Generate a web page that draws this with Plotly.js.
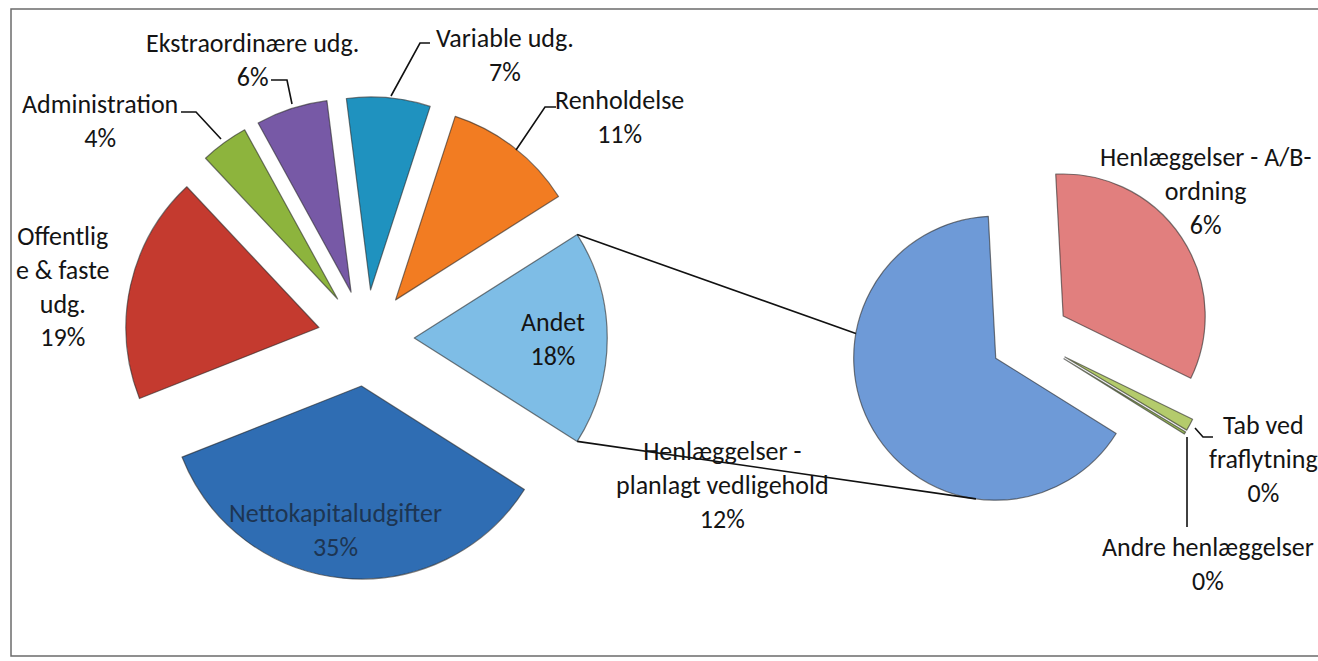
<!DOCTYPE html>
<html>
<head>
<meta charset="utf-8">
<script src="https://cdn.plot.ly/plotly-3.0.1.min.js"></script>
<style>
html,body{margin:0;padding:0;background:#ffffff;}
#chart{width:1318px;height:661px;}
</style>
</head>
<body>
<div id="chart"></div>
<script>
// ---------------- DATA ----------------
// Main pie (share of total, %)
const mainCategories = ["Nettokapitaludgifter", "Offentlige & faste udg.", "Administration",
  "Ekstraordinære udg.", "Variable udg.", "Renholdelse", "Andet"];
const mainValues = [35, 19, 4, 6, 7, 11, 18];

// Secondary pie: breakdown of "Andet" (share of total, %)
const subCategories = ["Henlæggelser - planlagt vedligehold", "Henlæggelser - A/B-ordning",
  "Tab ved fraflytning", "Andre henlæggelser"];
const subValues = [11.75, 5.95, 0.25, 0.05];

// ---------------- STYLE / LAYOUT ----------------
const W = 1318, H = 661;
const mainColors = ["#2F6DB3", "#C43A2F", "#8DB43D", "#7759A6", "#1F92BF", "#F27C22", "#7EBDE6"];
const subColors = ["#6E9AD7", "#E17F7E", "#B4CB6C", "#9BBB59"];
const FONT = "Carlito, Lato, 'Liberation Sans', sans-serif";
const FS = 26;

const mainPull = 0.25, subPull = 0.28;
const mainRotation = 122.4, subRotation = 122;
const px2paperX = x => x / W;
const px2paperY = y => 1 - y / H;
const mainDomain = {x: [124.75 / W, 607.25 / W], y: [1 - 579.25 / H, 1 - 96.75 / H]};
const subDomain = {x: [848.2 / W, 1211.8 / W], y: [1 - 519.8 / H, 1 - 156.2 / H]};

function geom(domain, pull) {
  const cx = W * (domain.x[0] + domain.x[1]) / 2;
  const cy = H * (1 - (domain.y[0] + domain.y[1]) / 2);
  const r = Math.min(W * (domain.x[1] - domain.x[0]), H * (domain.y[1] - domain.y[0])) / 2 / (1 + pull);
  return {cx, cy, r, pull};
}
function sliceAngles(values, rotation, idx) {
  const tot = values.reduce((a, b) => a + b, 0);
  let cum = 0;
  for (let i = 0; i < idx; i++) cum += values[i];
  const a0 = rotation + 360 * cum / tot;
  const a1 = a0 + 360 * values[idx] / tot;
  return [a0, a1, (a0 + a1) / 2];
}
const dir = a => [Math.sin(a * Math.PI / 180), -Math.cos(a * Math.PI / 180)];
function sliceOrigin(g, mid) {
  const d = dir(mid);
  return [g.cx + g.pull * g.r * d[0], g.cy + g.pull * g.r * d[1]];
}
function slicePoint(g, mid, ang) {
  const o = sliceOrigin(g, mid), d = dir(ang);
  return [o[0] + g.r * d[0], o[1] + g.r * d[1]];
}

const gMain = geom(mainDomain, mainPull);
const gSub = geom(subDomain, subPull);
const andetIdx = mainCategories.indexOf("Andet");
const [aA0, aA1, aAm] = sliceAngles(mainValues, mainRotation, andetIdx);
const [bA0, bA1, bAm] = sliceAngles(subValues, subRotation, 0);
const connTopStart = slicePoint(gMain, aAm, aA0);
const connBotStart = slicePoint(gMain, aAm, aA1);
const connTopEnd = slicePoint(gSub, bAm, 280);
const connBotEnd = slicePoint(gSub, bAm, 188);

const pct = v => Math.round(v) + "%";

// label placement (block centres in px) and line wrapping as in the original
const mainLabelLayout = [
  {lines: ["Nettokapitaludgifter"], x: 335, y: 530, color: "#1d3552"},
  {lines: ["Offentlig", "e & faste", "udg."], x: 63, y: 286},
  {lines: ["Administration"], x: 100, y: 121},
  {lines: ["Ekstraordinære udg."], x: 252, y: 60},
  {lines: ["Variable udg."], x: 505, y: 55},
  {lines: ["Renholdelse"], x: 619, y: 117},
  {lines: ["Andet"], x: 553, y: 339}
];
const subLabelLayout = [
  {lines: ["Henlæggelser -", "planlagt vedligehold"], x: 723, y: 485},
  {lines: ["Henlæggelser - A/B-", "ordning"], x: 1205, y: 191},
  {lines: ["Tab ved", "fraflytning"], x: 1263, y: 459},
  {lines: ["Andre henlæggelser"], x: 1208, y: 564}
];

const annotations = [];
function addLabels(layoutArr, values) {
  layoutArr.forEach((L, i) => {
    annotations.push({
      xref: "paper", yref: "paper", x: px2paperX(L.x), y: px2paperY(L.y),
      xanchor: "center", yanchor: "middle", showarrow: false, align: "center",
      text: L.lines.concat([pct(values[i])]).join("<br>"),
      font: {family: FONT, size: FS, color: L.color || "#141414"}
    });
  });
}
addLabels(mainLabelLayout, mainValues);
addLabels(subLabelLayout, subValues);

// leader lines (px polyline)
const leaders = [
  [[271, 80], [287, 80], [292, 104]],
  [[181, 112], [196, 112], [221, 139]],
  [[430, 43], [420, 43], [391, 96]],
  [[556, 107], [545, 107], [516, 150]],
  [[1195, 428], [1203, 437], [1213, 437]],
  [[1187, 437], [1187, 527]]
];
const pathOf = pts => pts.map((p, i) => (i ? "L" : "M") + px2paperX(p[0]).toFixed(5) + "," + px2paperY(p[1]).toFixed(5)).join(" ");

const shapes = [];
leaders.forEach(pts => shapes.push({type: "path", xref: "paper", yref: "paper", path: pathOf(pts),
  line: {color: "#111", width: 1.6}}));
[[connTopStart, connTopEnd], [connBotStart, connBotEnd]].forEach(seg => shapes.push({
  type: "line", xref: "paper", yref: "paper",
  x0: px2paperX(seg[0][0]), y0: px2paperY(seg[0][1]), x1: px2paperX(seg[1][0]), y1: px2paperY(seg[1][1]),
  line: {color: "#111", width: 1.6}
}));
// chart frame
shapes.push({type: "path", xref: "paper", yref: "paper",
  path: pathOf([[1318, 9], [11, 9], [11, 656], [1318, 656]]),
  line: {color: "#6b6b6b", width: 1.5}});

const traces = [
  {
    type: "pie", labels: mainCategories, values: mainValues, sort: false,
    direction: "clockwise", rotation: mainRotation, domain: mainDomain,
    pull: mainValues.map(() => mainPull),
    marker: {colors: mainColors, line: {color: "rgba(40,40,40,0.6)", width: 1.2}},
    textinfo: "none", hoverinfo: "label+percent", showlegend: false
  },
  {
    type: "pie", labels: subCategories, values: subValues, sort: false,
    direction: "clockwise", rotation: subRotation, domain: subDomain,
    pull: subValues.map(() => subPull),
    marker: {colors: subColors, line: {color: "rgba(40,40,40,0.6)", width: 1.2}},
    textinfo: "none", hoverinfo: "label+percent", showlegend: false
  }
];

const layout = {
  width: W, height: H,
  margin: {l: 0, r: 0, t: 0, b: 0},
  paper_bgcolor: "#ffffff", plot_bgcolor: "#ffffff",
  font: {family: FONT, size: FS, color: "#141414"},
  showlegend: false,
  annotations: annotations,
  shapes: shapes
};

Plotly.newPlot("chart", traces, layout, {displayModeBar: false, staticPlot: true});
</script>
</body>
</html>
